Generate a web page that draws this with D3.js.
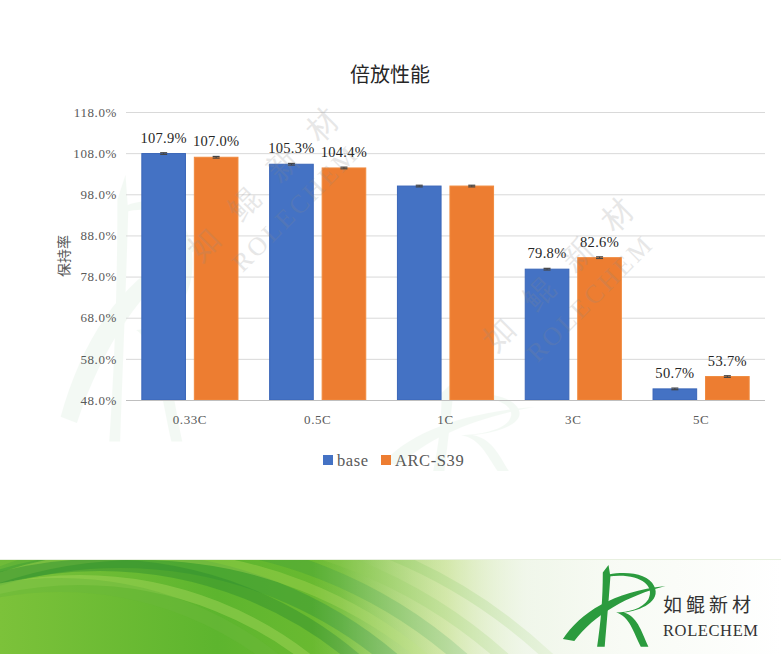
<!DOCTYPE html>
<html><head><meta charset="utf-8">
<script src="https://cdn.jsdelivr.net/npm/d3@7"></script>
<style>body{margin:0;background:#fff}svg{display:block}</style>
</head><body>
<script>
const categories = ["0.33C","0.5C","1C","3C","5C"];
const seriesNames = ["base","ARC-S39"];
const baseValues = [107.9,105.3,100.0,79.8,50.7];
const arcValues = [107.0,104.4,100.0,82.6,53.7];
const baseErr = [0.2,0.2,0.2,0.2,0.2];
const arcErr = [0.2,0.2,0.2,0.2,0.2];
const showLabel = [true,true,false,true,true];
const yTicks = [48,58,68,78,88,98,108,118];
const colors = ["#4472C4","#ED7D31"];
const strokeColors = ["#3A66B8","#F08A3E"];

(function(){
const W=781,H=654;
const svg=d3.select("body").append("svg").attr("width",W).attr("height",H);
const defs=svg.append("defs");
const serif="'Liberation Serif','DejaVu Serif',serif";
const cjk="'Noto Sans CJK SC','Noto Sans',sans-serif";

function drawR(g,color,op){
  const gg=g.append("g").attr("fill",color).attr("opacity",op);
  gg.append("path").attr("d","M2,78 C20,50 55,28 110,22 C70,32 35,52 14,80 Z");
  gg.append("path").attr("d","M44,8 L50,0 L52,12 C50,40 48,62 46,86 L38,86 C42,60 44,36 44,8 Z");
  gg.append("path").attr("d","M50,12 C80,8 100,20 92,36 C86,46 70,50 58,50 C72,54 76,70 84,86 L92,86 C84,68 80,54 66,50 C84,48 106,38 98,22 C92,10 72,6 50,10 Z");
}

const wm=svg.append("g");
drawR(wm.append("g").attr("transform","translate(58,175) scale(1.35,3.1)"),"#2e9a40",0.05);
drawR(wm.append("g").attr("transform","translate(380,385) scale(1.4,1.0)"),"#2e9a40",0.05);

const pL=126,pR=765,pT=112,pB=400;
const x0=d3.scaleBand().domain(categories).range([pL,pR]).paddingInner(0.24).paddingOuter(0.12);
const x1=d3.scaleBand().domain(seriesNames).range([0,x0.bandwidth()]).paddingInner(0.15);
const y=d3.scaleLinear().domain([48,118]).range([pB,pT]);

const yAxis=svg.append("g").attr("transform",`translate(${pL},0)`)
  .call(d3.axisLeft(y).tickValues(yTicks).tickSize(-(pR-pL)).tickPadding(9).tickFormat(d=>d3.format(".1f")(d)+"%"));
yAxis.select(".domain").remove();
yAxis.selectAll(".tick line").attr("stroke","#d9d9d9").attr("stroke-width",1);
yAxis.selectAll(".tick text").attr("font-family",serif).attr("font-size",13).attr("letter-spacing",0.6).attr("fill","#595959");

const data=categories.map((c,i)=>({cat:c,i,vals:[
  {s:seriesNames[0],v:baseValues[i],e:baseErr[i],k:0},
  {s:seriesNames[1],v:arcValues[i],e:arcErr[i],k:1}]}));

const groups=svg.append("g").selectAll("g").data(data).join("g")
  .attr("transform",d=>`translate(${x0(d.cat)},0)`);
groups.selectAll("rect").data(d=>d.vals).join("rect")
  .attr("x",d=>x1(d.s)+0.5).attr("width",x1.bandwidth()-1)
  .attr("y",d=>y(d.v)).attr("height",d=>y(48)-y(d.v))
  .attr("fill",d=>colors[d.k]).attr("stroke",d=>strokeColors[d.k]).attr("stroke-width",1);
groups.selectAll("g.err").data(d=>d.vals).join("g").attr("class","err").each(function(d){
  const g=d3.select(this), cx=x1(d.s)+x1.bandwidth()/2;
  g.append("line").attr("x1",cx).attr("x2",cx).attr("y1",y(d.v+d.e)).attr("y2",y(d.v-d.e)).attr("stroke","#444").attr("stroke-width",1);
  g.append("line").attr("x1",cx-3.5).attr("x2",cx+3.5).attr("y1",y(d.v+d.e)).attr("y2",y(d.v+d.e)).attr("stroke","#444").attr("stroke-width",1.2);
  g.append("line").attr("x1",cx-3.5).attr("x2",cx+3.5).attr("y1",y(d.v-d.e)).attr("y2",y(d.v-d.e)).attr("stroke","#444").attr("stroke-width",1.2);
});
groups.filter(d=>showLabel[d.i]).selectAll("text.lbl").data(d=>d.vals).join("text").attr("class","lbl")
  .attr("x",d=>x1(d.s)+x1.bandwidth()/2).attr("y",d=>y(d.v)-11)
  .attr("text-anchor","middle").attr("font-family",serif).attr("font-size",14.5).attr("letter-spacing",0.3).attr("fill","#262626")
  .text(d=>d3.format(".1f")(d.v)+"%");

const xAxis=svg.append("g").attr("transform",`translate(0,${pB})`)
  .call(d3.axisBottom(x0).tickSize(0).tickPadding(15));
xAxis.select(".domain").attr("stroke","#bfbfbf").attr("d",`M${pL},0.5H${pR}`);
xAxis.selectAll(".tick text").attr("font-family",serif).attr("font-size",13).attr("letter-spacing",0.6).attr("fill","#595959");

function wmText(x,y,cn,en){
  const g=svg.append("g").attr("transform",`translate(${x},${y}) rotate(-45)`).attr("fill","#8a8a8a").attr("opacity",0.2);
  g.append("text").attr("font-family",serif).attr("font-size",31).attr("letter-spacing",25).text(cn);
  g.append("text").attr("x",22).attr("y",38).attr("font-family",serif).attr("font-size",26).attr("letter-spacing",3).text(en);
}
wmText(200,262,"如鲲新材","ROLECHEM");
wmText(495,352,"如鲲新材","ROLECHEM");

svg.append("text").attr("x",390).attr("y",82).attr("text-anchor","middle").attr("font-family",cjk)
  .attr("font-size",20).attr("fill","#262626").text("倍放性能");
svg.append("text").attr("transform","translate(69,256) rotate(-90)").attr("text-anchor","middle")
  .attr("font-family",cjk).attr("font-size",14).attr("fill","#595959").text("保持率");

const legX=[323,381];
const leg=svg.append("g").selectAll("g").data(seriesNames).join("g").attr("transform",(d,i)=>`translate(${legX[i]},454)`);
leg.append("rect").attr("width",10).attr("height",10).attr("y",1).attr("fill",(d,i)=>colors[i]);
leg.append("text").attr("x",14).attr("y",12).attr("font-family",serif).attr("font-size",16.5).attr("letter-spacing",0.6).attr("fill","#595959").text(d=>d);

const bTop=559;
const gradB=defs.append("linearGradient").attr("id","gb").attr("x1","0").attr("x2","1").attr("y1","0").attr("y2","0");
[[0,"#7cc23a"],[0.35,"#5db52e"],[0.55,"#6dbb31"],[0.72,"#b3d76a"],[0.85,"#e6f1dc"],[1,"#ffffff"]]
  .forEach(s=>gradB.append("stop").attr("offset",s[0]).attr("stop-color",s[1]));
defs.append("clipPath").attr("id","cb").append("rect").attr("x",0).attr("y",bTop).attr("width",W).attr("height",H-bTop);
const ban=svg.append("g").attr("clip-path","url(#cb)");
ban.append("rect").attr("x",0).attr("y",bTop).attr("width",620).attr("height",H-bTop).attr("fill","url(#gb)");
const stripes=[
  {cx:120,cy:980,r:420,w:16,c:"#3d9a35",o:0.55},
  {cx:140,cy:1000,r:445,w:10,c:"#9fd24d",o:0.45},
  {cx:100,cy:960,r:395,w:12,c:"#2f8f2f",o:0.45},
  {cx:150,cy:1010,r:470,w:14,c:"#4aa636",o:0.5},
  {cx:80,cy:950,r:370,w:10,c:"#a7d65a",o:0.45},
  {cx:170,cy:1030,r:500,w:12,c:"#7cc23a",o:0.5},
  {cx:60,cy:930,r:345,w:14,c:"#6ab83a",o:0.5},
  {cx:190,cy:1040,r:525,w:10,c:"#74bd36",o:0.5}
];
ban.selectAll("circle.s").data(stripes).join("circle").attr("class","s")
  .attr("cx",d=>d.cx).attr("cy",d=>d.cy).attr("r",d=>d.r).attr("fill","none")
  .attr("stroke",d=>d.c).attr("stroke-width",d=>d.w).attr("opacity",d=>d.o);
const fade=defs.append("linearGradient").attr("id","gf").attr("x1","0").attr("x2","1");
[[0,"#ffffff",0],[0.4,"#ffffff",0],[0.7,"#f3f8ee",0.8],[1,"#ffffff",1]].forEach(s=>fade.append("stop").attr("offset",s[0]).attr("stop-color",s[1]).attr("stop-opacity",s[2]));
ban.append("rect").attr("x",0).attr("y",bTop).attr("width",W).attr("height",H-bTop).attr("fill","url(#gf)");
ban.append("rect").attr("x",0).attr("y",bTop).attr("width",W).attr("height",1).attr("fill","#e8f0e0");

drawR(svg.append("g").attr("transform","translate(561,565) scale(0.95,0.95)"),"#2b9b3e",1);
svg.append("text").attr("x",663).attr("y",612).attr("font-family",cjk).attr("font-size",19).attr("letter-spacing",4).attr("fill","#333").text("如鲲新材");
svg.append("text").attr("x",663).attr("y",636).attr("font-family",serif).attr("font-size",16.5).attr("fill","#333").attr("textLength",95).text("ROLECHEM");
})();
</script>
</body></html>
